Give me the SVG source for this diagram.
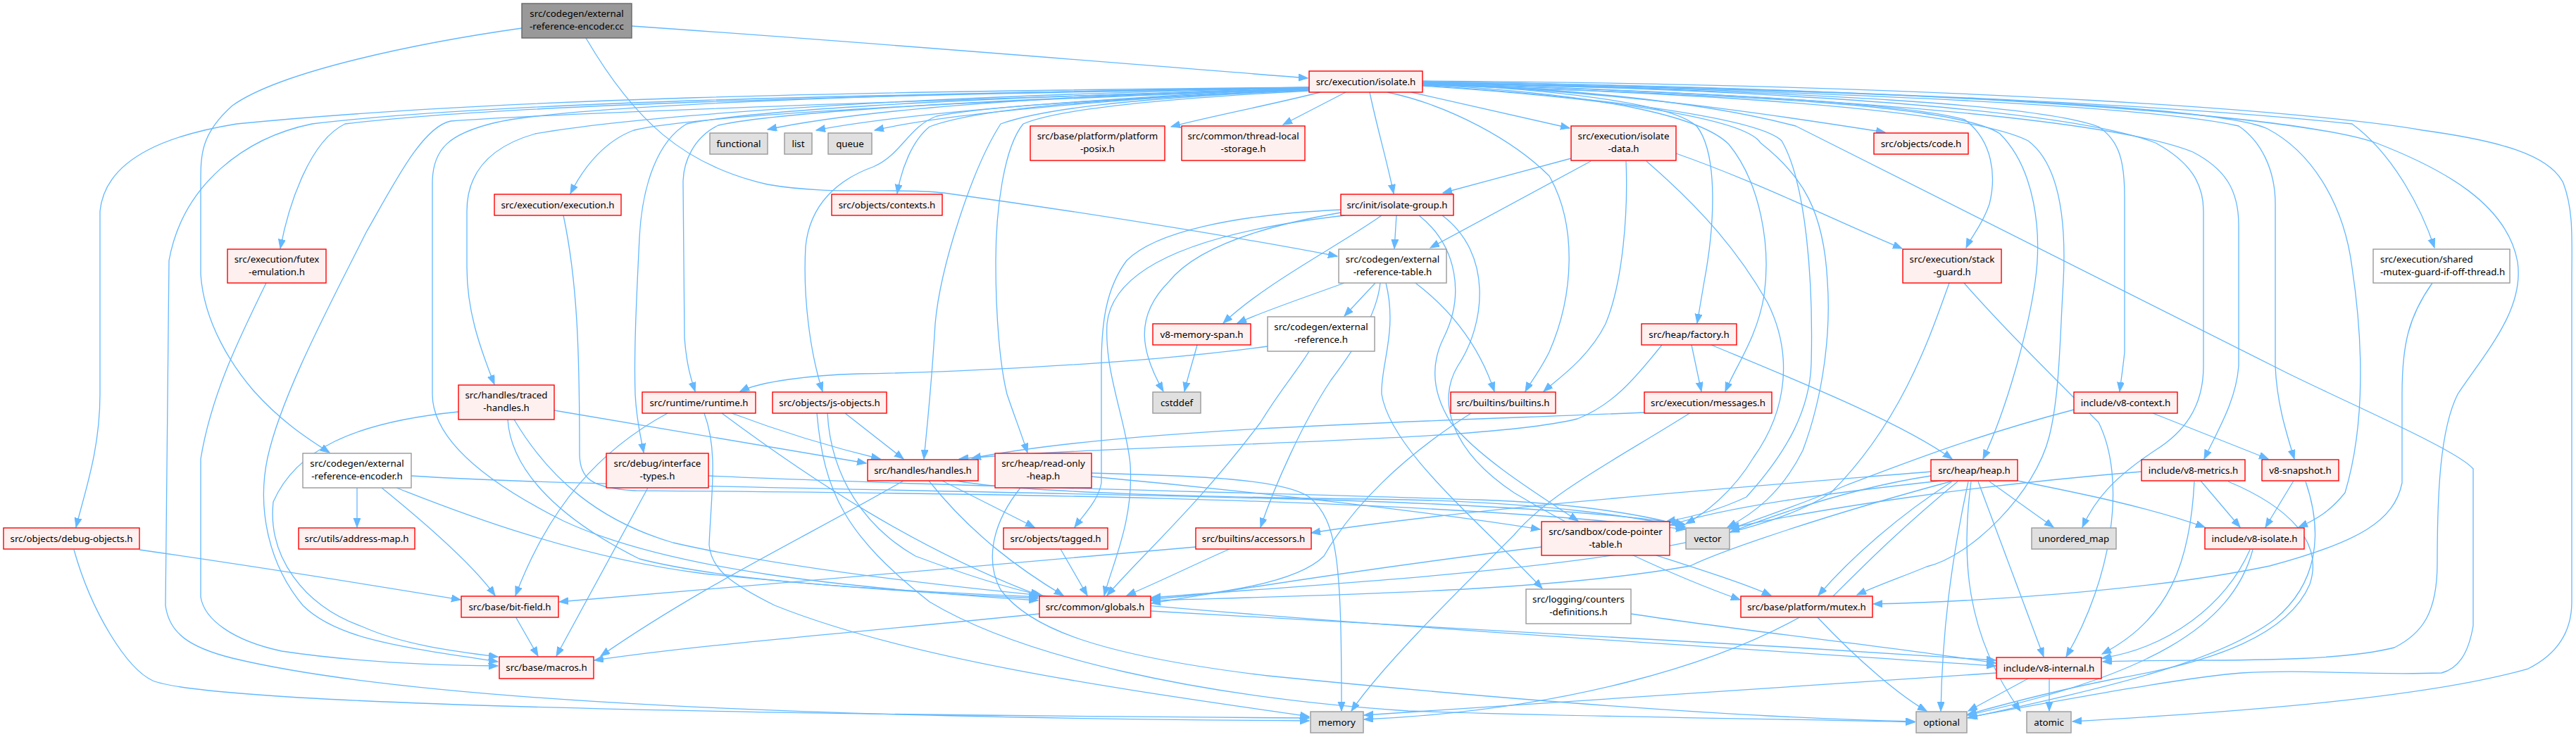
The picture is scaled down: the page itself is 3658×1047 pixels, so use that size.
<svg xmlns="http://www.w3.org/2000/svg" width="3658" height="1047" viewBox="0 0 3658 1047">
<style>
text{font-family:"Noto Sans","Liberation Sans",sans-serif;font-size:13.33px;fill:#000;text-anchor:middle}
.r rect{fill:#fff0f0;stroke:#ff0000;stroke-width:1.4}
.w rect{fill:#ffffff;stroke:#999999;stroke-width:1.4}
.s rect{fill:#e0e0e0;stroke:#999999;stroke-width:1.4}
.t rect{fill:#999999;stroke:#666666;stroke-width:1.4}
#edges path{fill:none;stroke:#63b8ff;stroke-width:1.3;marker-end:url(#a)}
</style>
<defs>
<marker id="a" markerUnits="userSpaceOnUse" markerWidth="15" markerHeight="12" refX="13" refY="5" orient="auto"><path d="M0,0 L13,5 L0,10 z" fill="#63b8ff" stroke="#63b8ff" stroke-width="1"/></marker>
</defs>
<rect width="3658" height="1047" fill="#ffffff"/>
<g id="edges">
<path d="M897,37 C1300,65 1650,95 1857,111"/>
<path d="M832,54 C900,170 970,235 1090,262 C1180,278 1270,266 1340,274 C1600,310 1800,345 1899,364"/>
<path d="M741,40 C600,60 400,100 330,150 C285,190 285,220 285,260 L285,390 C290,460 330,520 360,555 C400,600 440,625 468,643"/>
<path d="M1859,124 C1550,135 1250,150 1090,184"/>
<path d="M1859,125 C1600,138 1300,158 1159,185"/>
<path d="M1859,126 C1600,140 1350,160 1242,185"/>
<path d="M1875,131 C1800,150 1720,165 1663,180"/>
<path d="M1911,131 L1822,177"/>
<path d="M2004,131 L2229,182"/>
<path d="M2020,119 C2300,130 2500,160 2677,188"/>
<path d="M1859,126 C1500,140 1000,160 900,185 C860,200 830,235 810,275"/>
<path d="M1859,127 C1600,140 1400,150 1320,180 C1295,200 1280,240 1274,275"/>
<path d="M1945,131 C1955,180 1970,230 1979,275"/>
<path d="M1859,125 C1200,135 700,150 490,176 C440,200 410,290 398,353"/>
<path d="M1859,124 C1200,130 700,140 336,176 C250,190 150,220 142,300 L142,560 C142,640 120,700 108,749"/>
<path d="M1859,124 C1200,135 700,145 443,176 C350,195 260,260 240,370 L235,860 C240,900 270,920 330,935 C600,1000 1200,1020 1859,1024"/>
<path d="M1859,126 C1400,140 800,160 640,172 C600,180 560,260 520,330 C470,430 400,560 380,650 C365,720 380,800 430,860 C480,910 580,920 707,940"/>
<path d="M1859,125 C1300,130 800,150 700,175 C640,190 614,210 614,260 L614,560 C614,620 680,680 800,740 C950,810 1200,835 1474,853"/>
<path d="M1859,125 C1300,135 900,165 760,190 C690,210 663,250 663,300 L663,380 C663,440 680,490 702,546"/>
<path d="M1859,126 C1300,140 1050,160 975,176 C935,200 912,260 908,338 C904,420 900,500 902,560 C904,600 910,620 914,643"/>
<path d="M1859,127 C1400,140 1100,160 1020,178 C985,195 970,230 970,260 L972,480 C975,520 982,540 987,556"/>
<path d="M1859,127 C1600,140 1400,150 1330,165 C1290,180 1280,220 1240,237 C1190,255 1150,290 1144,350 C1140,420 1150,500 1168,556"/>
<path d="M1859,128 C1600,140 1480,155 1421,176 C1380,240 1335,380 1328,460 C1322,560 1315,620 1312,652"/>
<path d="M1859,129 C1650,140 1500,155 1453,176 C1425,210 1414,300 1414,372 C1414,450 1420,520 1430,560 C1440,590 1450,615 1459,643"/>
<path d="M2020,118 C2250,130 2380,150 2410,180 C2440,220 2435,320 2420,400 L2410,459"/>
<path d="M2020,120 C2300,135 2420,170 2455,205 C2500,260 2515,350 2505,420 C2495,480 2465,520 2450,556"/>
<path d="M2020,121 C2500,135 2780,150 2840,190 C2890,240 2900,330 2890,400 C2880,470 2850,580 2816,652"/>
<path d="M2020,119 C2400,130 2700,145 2790,170 C2830,200 2835,250 2825,290 C2815,320 2800,335 2792,352"/>
<path d="M2020,116 C2600,125 3100,150 3340,176 C3400,220 3440,300 3457,352"/>
<path d="M2020,117 C2600,130 2950,160 3061,203 C3110,230 3129,260 3129,300 L3129,520 C3129,580 3100,615 3060,640 C3000,680 2975,710 2957,749"/>
<path d="M2020,118 C2600,135 3000,170 3114,216 C3160,240 3179,270 3179,320 L3179,520 C3175,570 3150,610 3130,652"/>
<path d="M2020,117 C2600,130 3050,150 3179,179 C3210,200 3231,240 3231,290 L3231,520 C3233,570 3245,610 3258,652"/>
<path d="M2020,117 C2700,130 3150,150 3220,183 C3290,220 3330,300 3340,380 C3355,480 3360,600 3330,700 C3310,725 3290,738 3264,749"/>
<path d="M2020,115 C2800,120 3300,160 3440,185 C3550,200 3620,220 3640,260 C3655,300 3652,340 3652,400 L3652,855 C3652,900 3630,930 3590,950 C3450,990 3200,1010 2943,1025"/>
<path d="M2020,118 C2200,125 2400,140 2550,179 L3248,530 C3350,580 3490,640 3512,666 L3512,889 C3505,930 3490,950 3467,956 C3350,960 3280,950 3183,956 C3100,962 2900,1000 2795,1019"/>
<path d="M2020,116 C2700,125 3250,160 3374,203 C3470,240 3560,290 3575,372 C3585,440 3530,500 3490,560 C3465,610 3461,700 3461,800 C3461,870 3440,900 3400,920 C3300,945 3100,935 2986,940"/>
<path d="M2020,120 C2500,135 2800,160 2880,200 C2920,230 2935,300 2930,400 C2925,480 2925,560 2910,620 C2890,700 2800,790 2736,805 C2700,820 2670,830 2637,845"/>
<path d="M2020,118 C2600,130 2900,150 2980,180 C3010,200 3017,230 3017,280 L3017,500 C3015,520 3012,540 3010,556"/>
<path d="M2020,121 C2300,140 2500,170 2530,200 C2565,260 2575,400 2572,517 C2570,580 2540,640 2480,706 C2440,725 2400,735 2366,741"/>
<path d="M2020,122 C2300,140 2480,170 2500,203 C2560,250 2590,300 2595,400 C2600,470 2590,560 2560,640 C2530,700 2490,730 2453,749"/>
<path d="M1970,131 C2060,150 2150,200 2200,250 C2240,320 2235,420 2200,500 C2185,530 2172,545 2166,556"/>
<path d="M1983,306 L1980,353"/>
<path d="M2259,229 L2031,352"/>
<path d="M2231,225 L2049,274"/>
<path d="M1953,402 L1909,449"/>
<path d="M1909,402 C1860,420 1800,440 1757,459"/>
<path d="M1962,306 C1900,350 1800,400 1737,459"/>
<path d="M1904,302 C1800,320 1700,350 1660,400 C1610,450 1620,500 1652,556"/>
<path d="M1904,298 C1750,305 1640,330 1600,370 C1570,410 1564,460 1564,520 L1564,686 C1560,710 1540,730 1526,749"/>
<path d="M1910,306 C1700,330 1580,380 1572,460 C1568,530 1600,600 1605,660 C1610,740 1580,800 1568,846"/>
<path d="M2015,306 C2070,350 2080,420 2050,480 C2030,520 2035,560 2060,600 C2100,650 2180,700 2241,740"/>
<path d="M2048,306 C2120,360 2110,460 2070,520 C2040,570 2060,640 2150,700 C2250,760 2380,820 2471,852"/>
<path d="M1700,490 C1695,510 1688,530 1682,556"/>
<path d="M2010,402 C2060,440 2100,490 2122,556"/>
<path d="M1960,402 C1955,450 1920,500 1890,540 C1850,600 1810,690 1790,749"/>
<path d="M1968,402 C1985,470 1960,520 1962,560 C1975,640 2100,740 2190,836"/>
<path d="M1800,492 C1600,520 1300,530 1220,531 C1150,533 1080,542 1051,556"/>
<path d="M1859,499 C1840,530 1820,551 1790,600 C1700,720 1620,790 1572,846"/>
<path d="M2309,229 C2312,300 2305,400 2280,460 C2255,510 2210,540 2192,556"/>
<path d="M2402,490 L2416,556"/>
<path d="M2430,490 C2550,540 2700,600 2772,652"/>
<path d="M2360,490 C2320,540 2290,575 2240,595 C2100,630 1600,630 1362,652"/>
<path d="M2380,218 C2500,260 2620,320 2701,353"/>
<path d="M2338,229 C2420,300 2470,360 2510,430 C2545,500 2540,580 2490,650 C2460,700 2420,730 2394,744"/>
<path d="M2335,586 C2000,600 1600,608 1380,651"/>
<path d="M2401,586 C2300,650 2200,700 2150,760 C2050,860 1960,950 1919,1010"/>
<path d="M3057,587 L3221,652"/>
<path d="M2945,582 C2800,620 2700,660 2620,690 C2550,720 2500,735 2457,752"/>
<path d="M2742,676 C2650,690 2550,720 2457,756"/>
<path d="M2742,670 C2500,690 2100,720 1862,757"/>
<path d="M2756,683 C2600,700 2450,720 2372,746"/>
<path d="M2770,684 C2600,730 2450,780 2400,804 C2200,840 1900,845 1634,853"/>
<path d="M2772,684 C2700,730 2630,790 2582,846"/>
<path d="M2825,684 L2916,749"/>
<path d="M2809,684 L2902,933"/>
<path d="M2795,684 C2770,800 2758,900 2756,1010"/>
<path d="M2799,684 C2785,790 2790,900 2869,1010"/>
<path d="M2780,684 C2700,750 2650,800 2600,850 C2450,950 2200,1010 1937,1022"/>
<path d="M2865,683 C2950,700 3050,720 3131,749"/>
<path d="M3125,683 L3181,749"/>
<path d="M3116,684 C3110,800 3080,880 2985,929"/>
<path d="M3164,684 C3250,720 3300,770 3280,830 C3250,900 3150,940 3000,965 C2900,985 2830,1005 2794,1015"/>
<path d="M3041,670 C2800,690 2600,720 2457,750"/>
<path d="M3257,683 L3217,749"/>
<path d="M3274,684 C3300,760 3290,830 3230,880 C3150,940 3000,975 2794,1020"/>
<path d="M3195,781 C3160,860 3080,920 2985,935"/>
<path d="M3199,781 C3170,890 3050,960 2794,1016"/>
<path d="M2880,964 L2795,1010"/>
<path d="M2910,964 L2910,1010"/>
<path d="M2835,956 C2500,980 2200,1000 1937,1016"/>
<path d="M2580,876 C2640,940 2700,990 2736,1010"/>
<path d="M2316,872 C2500,900 2700,920 2834,942"/>
<path d="M2189,777 C2000,800 1800,830 1635,857"/>
<path d="M2352,789 C2420,811 2480,830 2515,846"/>
<path d="M3454,402 C3420,450 3411,490 3411,560 L3411,686 C3400,740 3350,770 3223,804 C3050,840 2800,855 2660,858"/>
<path d="M2789,402 C2840,460 2900,520 2980,600 C3020,680 3000,820 2934,933"/>
<path d="M2768,402 C2740,480 2700,600 2600,700 C2450,800 2000,820 1635,849"/>
<path d="M507,693 L507,749"/>
<path d="M542,693 C600,740 670,800 703,846"/>
<path d="M563,693 C620,715 800,790 1000,815 C1200,835 1350,845 1474,850"/>
<path d="M584,676 C800,690 1200,693 1800,708 C2100,715 2300,730 2393,745"/>
<path d="M198,781 C400,810 550,835 654,852"/>
<path d="M105,781 C130,870 180,950 217,967 C300,1000 1000,1015 1859,1020"/>
<path d="M378,402 C340,480 300,560 285,652 L285,848 C290,880 330,910 400,925 C500,940 600,945 707,946"/>
<path d="M651,585 C500,600 420,640 388,713 C380,790 430,860 514,890 C570,915 640,925 707,933"/>
<path d="M787,583 C950,610 1100,635 1230,658"/>
<path d="M721,596 C725,660 780,730 908,794 C1050,830 1300,840 1474,848"/>
<path d="M730,596 C780,680 850,740 956,771 C1300,850 2000,890 2834,946"/>
<path d="M948,587 C850,640 780,720 732,846"/>
<path d="M1039,587 C1100,610 1180,635 1250,652"/>
<path d="M1000,587 C1020,640 1010,700 1007,774 C1010,810 1040,830 1100,860 C1300,940 1600,980 1859,1018"/>
<path d="M1025,587 C1150,680 1300,780 1476,846"/>
<path d="M1200,587 L1283,652"/>
<path d="M1175,587 C1180,680 1230,750 1300,790 C1380,820 1430,835 1480,846"/>
<path d="M1160,587 C1170,700 1200,760 1320,855 C1450,933 1700,990 2000,1010 C2300,1020 2600,1022 2719,1026"/>
<path d="M920,693 L790,932"/>
<path d="M1006,676 C1300,690 1800,700 2100,710 C2250,715 2350,735 2393,748"/>
<path d="M800,306 C820,400 823,500 823,645 C823,680 840,693 900,697 C1300,700 2000,705 2393,752"/>
<path d="M1449,693 C1406,747 1400,800 1421,838 C1460,890 1550,930 1800,960 C2200,1000 2500,1020 2719,1025"/>
<path d="M1550,677 C1800,700 2050,730 2187,752"/>
<path d="M1550,672 C1700,676 1820,680 1859,706 C1900,740 1905,800 1905,1010"/>
<path d="M1338,683 L1469,749"/>
<path d="M1319,683 C1380,760 1450,810 1510,846"/>
<path d="M1283,683 C1150,760 1000,830 853,932"/>
<path d="M1358,683 C1450,700 1700,706 2000,710 C2200,715 2330,735 2393,750"/>
<path d="M1506,780 L1544,846"/>
<path d="M1746,780 C1700,800 1650,825 1600,846"/>
<path d="M1698,777 C1400,805 1000,835 794,855"/>
<path d="M732,876 L764,932"/>
<path d="M1476,872 C1200,900 1000,915 844,938"/>
<path d="M1634,868 C1900,880 2400,910 2834,938"/>
<path d="M2089,587 C1990,650 1920,720 1880,790 C1840,830 1720,845 1635,851"/>
</g>
<g id="n_cc" class="t"><rect x="741" y="5" width="156" height="49"/><text x="819" y="23.5">src/codegen/external</text><text x="819" y="42">-reference-encoder.cc</text></g>
<g id="n_isolate" class="r"><rect x="1859" y="101" width="161" height="30"/><text x="1939.5" y="121">src/execution/isolate.h</text></g>
<g id="n_functional" class="s"><rect x="1008" y="189" width="82" height="30"/><text x="1049" y="209">functional</text></g>
<g id="n_list" class="s"><rect x="1114" y="189" width="39" height="30"/><text x="1133.5" y="209">list</text></g>
<g id="n_queue" class="s"><rect x="1176" y="189" width="62" height="30"/><text x="1207" y="209">queue</text></g>
<g id="n_posix" class="r"><rect x="1463" y="179" width="191" height="49"/><text x="1558.5" y="197.5">src/base/platform/platform</text><text x="1558.5" y="216">-posix.h</text></g>
<g id="n_tls" class="r"><rect x="1678" y="179" width="175" height="49"/><text x="1765.5" y="197.5">src/common/thread-local</text><text x="1765.5" y="216">-storage.h</text></g>
<g id="n_idata" class="r"><rect x="2231" y="179" width="149" height="49"/><text x="2305.5" y="197.5">src/execution/isolate</text><text x="2305.5" y="216">-data.h</text></g>
<g id="n_code" class="r"><rect x="2661" y="189" width="134" height="30"/><text x="2728" y="209">src/objects/code.h</text></g>
<g id="n_exec" class="r"><rect x="702" y="276" width="180" height="30"/><text x="792" y="296">src/execution/execution.h</text></g>
<g id="n_ctx" class="r"><rect x="1181" y="276" width="157" height="30"/><text x="1259.5" y="296">src/objects/contexts.h</text></g>
<g id="n_igroup" class="r"><rect x="1904" y="276" width="160" height="30"/><text x="1984" y="296">src/init/isolate-group.h</text></g>
<g id="n_futex" class="r"><rect x="323" y="354" width="140" height="48"/><text x="393" y="372.5">src/execution/futex</text><text x="393" y="391">-emulation.h</text></g>
<g id="n_ert" class="w"><rect x="1901" y="354" width="153" height="48"/><text x="1977.5" y="372.5">src/codegen/external</text><text x="1977.5" y="391">-reference-table.h</text></g>
<g id="n_stack" class="r"><rect x="2702" y="354" width="140" height="48"/><text x="2772" y="372.5">src/execution/stack</text><text x="2772" y="391">-guard.h</text></g>
<g id="n_shared" class="w"><rect x="3370" y="354" width="194" height="48"/><text x="3380" y="372.5" style="text-anchor:start">src/execution/shared</text><text x="3380" y="391" style="text-anchor:start">-mutex-guard-if-off-thread.h</text></g>
<g id="n_span" class="r"><rect x="1637" y="460" width="139" height="30"/><text x="1706.5" y="480">v8-memory-span.h</text></g>
<g id="n_extref" class="w"><rect x="1800" y="450" width="152" height="49"/><text x="1876" y="468.5">src/codegen/external</text><text x="1876" y="487">-reference.h</text></g>
<g id="n_factory" class="r"><rect x="2331" y="460" width="135" height="30"/><text x="2398.5" y="480">src/heap/factory.h</text></g>
<g id="n_ctxapi" class="r"><rect x="2945" y="557" width="147" height="30"/><text x="3018.5" y="577">include/v8-context.h</text></g>
<g id="n_traced" class="r"><rect x="651" y="547" width="136" height="49"/><text x="719" y="565.5">src/handles/traced</text><text x="719" y="584">-handles.h</text></g>
<g id="n_runtime" class="r"><rect x="912" y="557" width="161" height="30"/><text x="992.5" y="577">src/runtime/runtime.h</text></g>
<g id="n_jsobj" class="r"><rect x="1097" y="557" width="162" height="30"/><text x="1178" y="577">src/objects/js-objects.h</text></g>
<g id="n_cstddef" class="s"><rect x="1637" y="557" width="68" height="30"/><text x="1671" y="577">cstddef</text></g>
<g id="n_builtins" class="r"><rect x="2060" y="557" width="149" height="30"/><text x="2134.5" y="577">src/builtins/builtins.h</text></g>
<g id="n_messages" class="r"><rect x="2335" y="557" width="181" height="30"/><text x="2425.5" y="577">src/execution/messages.h</text></g>
<g id="n_ench" class="w"><rect x="430" y="644" width="154" height="49"/><text x="507" y="662.5">src/codegen/external</text><text x="507" y="681">-reference-encoder.h</text></g>
<g id="n_itypes" class="r"><rect x="861" y="644" width="145" height="49"/><text x="933.5" y="662.5">src/debug/interface</text><text x="933.5" y="681">-types.h</text></g>
<g id="n_rohep" class="r"><rect x="1413" y="644" width="137" height="49"/><text x="1481.5" y="662.5">src/heap/read-only</text><text x="1481.5" y="681">-heap.h</text></g>
<g id="n_handles" class="r"><rect x="1232" y="653" width="157" height="30"/><text x="1310.5" y="673">src/handles/handles.h</text></g>
<g id="n_heap" class="r"><rect x="2742" y="653" width="123" height="30"/><text x="2803.5" y="673">src/heap/heap.h</text></g>
<g id="n_metrics" class="r"><rect x="3041" y="653" width="147" height="30"/><text x="3114.5" y="673">include/v8-metrics.h</text></g>
<g id="n_snap" class="r"><rect x="3212" y="653" width="109" height="30"/><text x="3266.5" y="673">v8-snapshot.h</text></g>
<g id="n_dbgobj" class="r"><rect x="5" y="750" width="193" height="30"/><text x="101.5" y="770">src/objects/debug-objects.h</text></g>
<g id="n_amap" class="r"><rect x="424" y="750" width="165" height="30"/><text x="506.5" y="770">src/utils/address-map.h</text></g>
<g id="n_tagged" class="r"><rect x="1425" y="750" width="148" height="30"/><text x="1499" y="770">src/objects/tagged.h</text></g>
<g id="n_acc" class="r"><rect x="1698" y="750" width="164" height="30"/><text x="1780" y="770">src/builtins/accessors.h</text></g>
<g id="n_cpt" class="r"><rect x="2189" y="741" width="182" height="48"/><text x="2280" y="759.5">src/sandbox/code-pointer</text><text x="2280" y="778">-table.h</text></g>
<g id="n_vector" class="s"><rect x="2394" y="750" width="62" height="30"/><text x="2425" y="770">vector</text></g>
<g id="n_umap" class="s"><rect x="2885" y="750" width="120" height="30"/><text x="2945" y="770">unordered_map</text></g>
<g id="n_visolate" class="r"><rect x="3131" y="750" width="141" height="30"/><text x="3201.5" y="770">include/v8-isolate.h</text></g>
<g id="n_bitf" class="r"><rect x="655" y="847" width="138" height="30"/><text x="724" y="867">src/base/bit-field.h</text></g>
<g id="n_globals" class="r"><rect x="1476" y="847" width="158" height="30"/><text x="1555" y="867">src/common/globals.h</text></g>
<g id="n_counters" class="w"><rect x="2167" y="837" width="149" height="49"/><text x="2241.5" y="855.5">src/logging/counters</text><text x="2241.5" y="874">-definitions.h</text></g>
<g id="n_mutex" class="r"><rect x="2472" y="847" width="187" height="30"/><text x="2565.5" y="867">src/base/platform/mutex.h</text></g>
<g id="n_macros" class="r"><rect x="709" y="933" width="134" height="31"/><text x="776" y="953">src/base/macros.h</text></g>
<g id="n_internal" class="r"><rect x="2835" y="934" width="149" height="30"/><text x="2909.5" y="954">include/v8-internal.h</text></g>
<g id="n_memory" class="s"><rect x="1861" y="1011" width="75" height="30"/><text x="1898.5" y="1031">memory</text></g>
<g id="n_optional" class="s"><rect x="2721" y="1011" width="72" height="30"/><text x="2757" y="1031">optional</text></g>
<g id="n_atomic" class="s"><rect x="2878" y="1011" width="63" height="30"/><text x="2909.5" y="1031">atomic</text></g>
</svg>
